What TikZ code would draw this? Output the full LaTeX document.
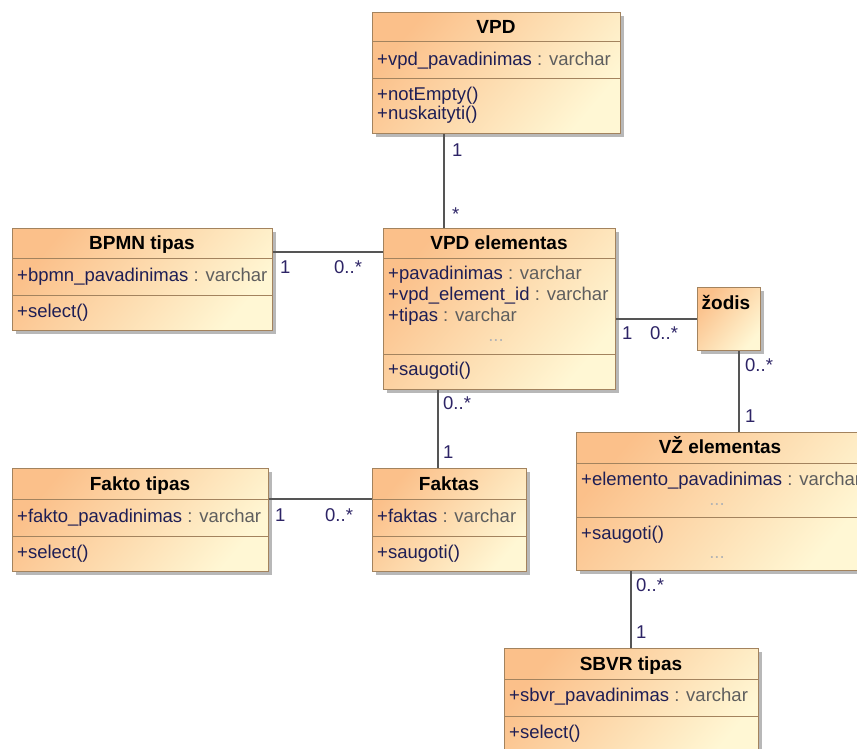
\documentclass[tikz,border=0pt]{standalone}
\usepackage{fontspec}
\setmainfont{Liberation Sans}
\usetikzlibrary{shadows}
\definecolor{bordc}{HTML}{A3835E}
\definecolor{orng}{HTML}{FBC08A}
\definecolor{ylw}{HTML}{FFF7D4}
\definecolor{namec}{HTML}{1E1E55}
\definecolor{typec}{HTML}{5E5E5E}
\definecolor{dotc}{HTML}{B4B4B4}
\definecolor{multc}{HTML}{2D2466}
\definecolor{linec}{HTML}{555555}
\newcommand\umlattr[2]{#1\space\textcolor{typec}{:\space#2}}
\newcommand\memfont{\fontsize{18.5}{22}\selectfont}
\tikzset{
 cls/.style={draw=bordc, line width=1.2pt, top color=orng, bottom color=ylw, shading angle=50, anchor=north west, inner sep=0pt, drop shadow={shadow xshift=3pt, shadow yshift=-3pt, fill=black, opacity=0.28}},
 sepline/.style={draw=bordc, line width=1pt},
 title/.style={font=\bfseries\fontsize{19}{22}\selectfont, anchor=base, inner sep=0pt, text=black},
 member/.style={font=\memfont, anchor=base west, inner sep=0pt, text=namec},
 dotsn/.style={font=\memfont, anchor=base, inner sep=0pt, text=dotc},
 mult/.style={font=\memfont, anchor=base west, inner sep=0pt, text=multc},
 assoc/.style={draw=linec, line width=1.3pt},
}
\begin{document}
\begin{tikzpicture}[x=1pt,y=-1pt]
\useasboundingbox (0,0) rectangle (857,749);
\clip (0,0) rectangle (857,749);
\fill[white] (0,0) rectangle (857,749);

% ---- VPD
\node[cls, minimum width=248pt, minimum height=121pt] (vpd) at (372,12) {};
\draw[sepline] ([yshift=-30pt]vpd.north west) -- ([yshift=-30pt]vpd.north east);
\draw[sepline] ([yshift=-67pt]vpd.north west) -- ([yshift=-67pt]vpd.north east);
\node[title] (vpdT) at (496,33.5) {VPD};
\node[member] (vpdA1) at (377,66) {\umlattr{+vpd\_pavadinimas}{varchar}};
\node[member] (vpdO1) at (377,100.5) {+notEmpty()};
\node[member] (vpdO2) at (377,120) {+nuskaityti()};

% ---- BPMN tipas
\node[cls, minimum width=260pt, minimum height=102pt] (bpmn) at (12,228) {};
\draw[sepline] ([yshift=-30pt]bpmn.north west) -- ([yshift=-30pt]bpmn.north east);
\draw[sepline] ([yshift=-67pt]bpmn.north west) -- ([yshift=-67pt]bpmn.north east);
\node[title] (bpmnT) at (142,249.5) {BPMN tipas};
\node[member] (bpmnA1) at (17,281.5) {\umlattr{+bpmn\_pavadinimas}{varchar}};
\node[member] (bpmnO1) at (17,317.5) {+select()};

% ---- VPD elementas
\node[cls, minimum width=232pt, minimum height=161pt] (vpdel) at (383,228) {};
\draw[sepline] ([yshift=-30pt]vpdel.north west) -- ([yshift=-30pt]vpdel.north east);
\draw[sepline] ([yshift=-126pt]vpdel.north west) -- ([yshift=-126pt]vpdel.north east);
\node[title] (vpdelT) at (499,249.5) {VPD elementas};
\node[member] (vpdelA1) at (388,279.5) {\umlattr{+pavadinimas}{varchar}};
\node[member] (vpdelA2) at (388,300.5) {\umlattr{+vpd\_element\_id}{varchar}};
\node[member] (vpdelA3) at (388,321.5) {\umlattr{+tipas}{varchar}};
\node[dotsn] (vpdelD1) at (496,341) {...};
\node[member] (vpdelO1) at (388,375.5) {+saugoti()};

% ---- zodis
\node[cls, minimum width=63pt, minimum height=63pt] (zod) at (697,287) {};
\node[title] (zodT) at (726,309.5) {žodis};

% ---- VZ elementas
\node[cls, minimum width=288pt, minimum height=138pt] (vz) at (576,432) {};
\draw[sepline] ([yshift=-31pt]vz.north west) -- ([yshift=-31pt]vz.north east);
\draw[sepline] ([yshift=-85pt]vz.north west) -- ([yshift=-85pt]vz.north east);
\node[title] (vzT) at (720,453.5) {VŽ elementas};
\node[member] (vzA1) at (581,485.5) {\umlattr{+elemento\_pavadinimas}{varchar}};
\node[dotsn] (vzD1) at (717,505) {...};
\node[member] (vzO1) at (581,539.5) {+saugoti()};
\node[dotsn] (vzD2) at (717,558) {...};

% ---- Fakto tipas
\node[cls, minimum width=256pt, minimum height=103pt] (fakt) at (12,468) {};
\draw[sepline] ([yshift=-31pt]fakt.north west) -- ([yshift=-31pt]fakt.north east);
\draw[sepline] ([yshift=-68pt]fakt.north west) -- ([yshift=-68pt]fakt.north east);
\node[title] (faktT) at (140,490.5) {Fakto tipas};
\node[member] (faktA1) at (17,522.5) {\umlattr{+fakto\_pavadinimas}{varchar}};
\node[member] (faktO1) at (17,558) {+select()};

% ---- Faktas
\node[cls, minimum width=154pt, minimum height=103pt] (faktas) at (372,468) {};
\draw[sepline] ([yshift=-31pt]faktas.north west) -- ([yshift=-31pt]faktas.north east);
\draw[sepline] ([yshift=-68pt]faktas.north west) -- ([yshift=-68pt]faktas.north east);
\node[title] (faktasT) at (449,490.5) {Faktas};
\node[member] (faktasA1) at (377,522.5) {\umlattr{+faktas}{varchar}};
\node[member] (faktasO1) at (377,558) {+saugoti()};

% ---- SBVR tipas
\node[cls, minimum width=254pt, minimum height=112pt] (sbvr) at (504,648) {};
\draw[sepline] ([yshift=-31pt]sbvr.north west) -- ([yshift=-31pt]sbvr.north east);
\draw[sepline] ([yshift=-68pt]sbvr.north west) -- ([yshift=-68pt]sbvr.north east);
\node[title] (sbvrT) at (631,670.5) {SBVR tipas};
\node[member] (sbvrA1) at (509,701.5) {\umlattr{+sbvr\_pavadinimas}{varchar}};
\node[member] (sbvrO1) at (509,738.5) {+select()};

% ---- associations
\coordinate (c1) at (444,0);
\coordinate (c2) at (0,252);
\coordinate (c3) at (0,319);
\coordinate (c4) at (739,0);
\coordinate (c5) at (438,0);
\coordinate (c6) at (0,499);
\coordinate (c7) at (631,0);
\draw[assoc] (vpd.south -| c1) -- (vpdel.north -| c1);
\draw[assoc] (bpmn.east |- c2) -- (vpdel.west |- c2);
\draw[assoc] (vpdel.east |- c3) -- (zod.west |- c3);
\draw[assoc] (zod.south -| c4) -- (vz.north -| c4);
\draw[assoc] (vpdel.south -| c5) -- (faktas.north -| c5);
\draw[assoc] (fakt.east |- c6) -- (faktas.west |- c6);
\draw[assoc] (vz.south -| c7) -- (sbvr.north -| c7);

% ---- multiplicities
\node[mult] (m1a) at (452,156.5) {1};
\node[mult] (m1b) at (452,220) {*};
\node[mult] (m2a) at (280,273.5) {1};
\node[mult] (m2b) at (334,273.5) {0..*};
\node[mult] (m3a) at (622,339.5) {1};
\node[mult] (m3b) at (650,339.5) {0..*};
\node[mult] (m4a) at (745,371) {0..*};
\node[mult] (m4b) at (745,422.5) {1};
\node[mult] (m5a) at (443,409.5) {0..*};
\node[mult] (m5b) at (443,458.5) {1};
\node[mult] (m6a) at (275,521.5) {1};
\node[mult] (m6b) at (325,521.5) {0..*};
\node[mult] (m7a) at (636,591.5) {0..*};
\node[mult] (m7b) at (636,638.5) {1};
\end{tikzpicture}
\end{document}
